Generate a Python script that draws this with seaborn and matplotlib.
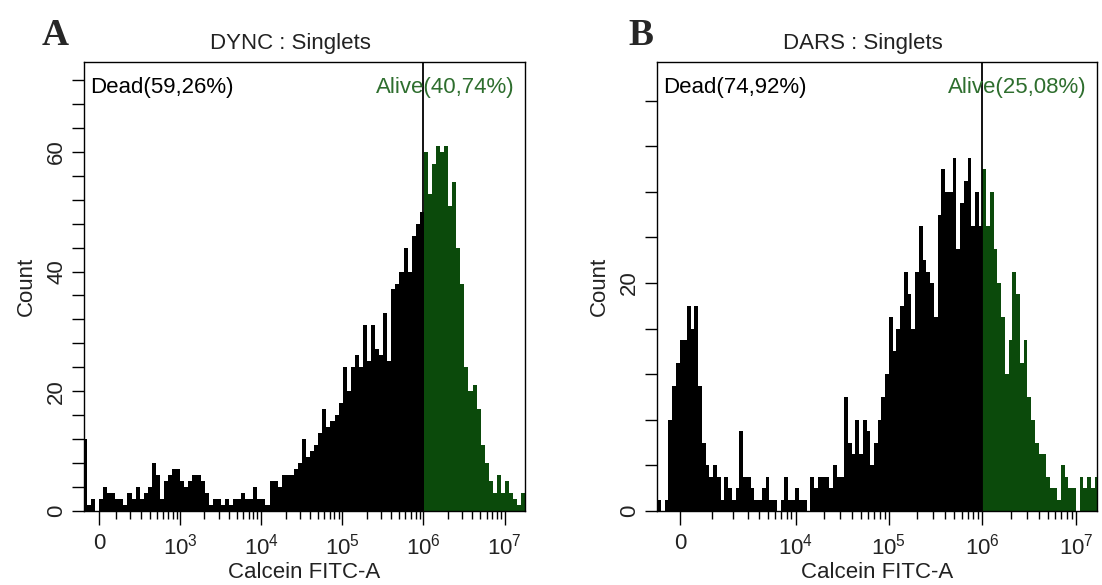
import numpy as np
import pandas as pd
import matplotlib
matplotlib.use("Agg")
import matplotlib.pyplot as plt
import seaborn as sns

# --- Painel A: DYNC, contagens por canal ---
dync_counts = [12, 1, 2, 0, 2, 4, 3, 3, 2, 2,
               1, 3, 2, 4, 2, 3, 4, 8, 6, 2,
               5, 6, 7, 7, 5, 4, 5, 6, 6, 5,
               3, 1, 2, 2, 1, 2, 1, 2, 2, 3,
               2, 2, 4, 2, 2, 1, 5, 5, 4, 6,
               6, 6, 7, 8, 12, 9, 10, 11, 13, 17,
               14, 15, 16, 18, 24, 20, 24, 26, 24, 31,
               25, 31, 27, 26, 33, 25, 37, 38, 40, 44,
               40, 46, 48, 50, 60, 53, 58, 61, 60, 61,
               51, 55, 44, 38, 24, 20, 21, 17, 11, 8,
               5, 3, 6, 3, 5, 3, 2, 1, 3]

# --- Painel B: DARS ---
dars_counts = [1, 0, 1, 8, 11, 13, 15, 15, 18, 16,
               18, 11, 6, 4, 3, 4, 3, 1, 3, 2,
               1, 2, 7, 3, 3, 2, 1, 1, 2, 3,
               1, 1, 0, 1, 3, 1, 1, 2, 1, 1,
               0, 3, 2, 3, 3, 3, 2, 4, 3, 3,
               10, 6, 5, 8, 5, 8, 7, 4, 6, 8,
               10, 12, 17, 14, 16, 18, 21, 19, 16, 21,
               25, 22, 21, 20, 17, 26, 30, 28, 28, 31,
               23, 27, 29, 31, 25, 28, 25, 30, 25, 28,
               23, 20, 17, 12, 15, 21, 19, 13, 15, 10,
               8, 6, 5, 5, 3, 2, 2, 1, 4, 3,
               2, 2, 0, 3, 2, 3, 2, 3]

titles = ["DYNC : Singlets", "DARS : Singlets"]
dead_labels = ["Dead(59,26%)", "Dead(74,92%)"]
alive_labels = ["Alive(40,74%)", "Alive(25,08%)"]
gate = 1e6

GREEN = "#0b4a0b"
GREEN_TXT = "#2e6e2e"
FS = 16


def to_u(x, w):
    """transformação tipo biexponencial (arcsinh), em décadas"""
    return np.arcsinh(np.asarray(x, float) / w) / np.log(10)


def painel(ax, counts, w, u_start, u_step, u_lim, ymax, major, major_lbl, minor,
           yticks, title, dead, alive):
    n = len(counts)
    u_edges = u_start + u_step * np.arange(n + 1)
    u_centers = u_start + u_step * (np.arange(n) + 0.5)
    u_gate = to_u(gate, w)

    # cada canal vira "eventos" no centro do bin
    ev = pd.DataFrame({"u": np.repeat(u_centers, counts)})
    ev["gate"] = np.where(ev["u"] < u_gate, "Dead", "Alive")

    sns.histplot(data=ev[ev["gate"] == "Dead"], x="u", bins=u_edges,
                 element="step", fill=True, color="black", alpha=1,
                 linewidth=0, ax=ax)
    sns.histplot(data=ev[ev["gate"] == "Alive"], x="u", bins=u_edges,
                 element="step", fill=True, color=GREEN, alpha=1,
                 linewidth=0, ax=ax)
    ax.axvline(u_gate, color="black", lw=1.3)

    ax.set_xlim(*u_lim)
    ax.set_ylim(0, ymax)

    ax.set_xticks(to_u(major, w))
    ax.set_xticklabels(major_lbl)
    ax.set_xticks(to_u(minor, w), minor=True)
    ax.set_yticks(yticks)
    ax.set_yticks(np.arange(0, ymax, 4), minor=True)
    ax.set_yticklabels([str(v) for v in yticks])

    ax.tick_params(axis="both", which="both", direction="out", color="black",
                   labelcolor="#222222", width=1)
    ax.tick_params(axis="y", which="both", length=9)
    ax.tick_params(axis="y", which="major", pad=3, labelrotation=90, labelsize=FS)
    ax.tick_params(axis="x", which="major", length=10, pad=6, labelsize=FS)
    ax.tick_params(axis="x", which="minor", length=6)
    for lab in ax.get_yticklabels():
        lab.set_va("center")

    for s in ax.spines.values():
        s.set_color("black")
        s.set_linewidth(1)

    ax.set_xlabel("Calcein FITC-A", fontsize=FS, color="#222222", labelpad=2)
    ax.set_ylabel("Count", fontsize=FS, color="#222222", labelpad=7)

    ax.text(0.467, 1.029, title, transform=ax.transAxes, ha="center",
            va="baseline", fontsize=FS, color="#222222")
    ax.text(0.014, 0.944, dead, transform=ax.transAxes, ha="left",
            va="center", fontsize=FS, color="black")
    ax.text(0.977, 0.944, alive, transform=ax.transAxes, ha="right",
            va="center", fontsize=FS, color=GREEN_TXT)


sns.set_theme(style="ticks")
plt.rcParams["font.family"] = ["Liberation Sans", "DejaVu Sans"]
plt.rcParams["mathtext.fontset"] = "custom"
plt.rcParams["mathtext.rm"] = "Liberation Sans"
plt.rcParams["mathtext.it"] = "Liberation Sans:italic"

W, H = 1102, 585
fig = plt.figure(figsize=(W / 100, H / 100), dpi=100)
axA = fig.add_axes([84 / W, 74 / H, 441 / W, 449 / H])
axB = fig.add_axes([657 / W, 74 / H, 440 / W, 449 / H])

minorA = [k * 100 for k in range(1, 10)] + \
         [k * 10.0 ** e for e in range(3, 7) for k in range(2, 10)]
painel(axA, dync_counts, 202, -0.2, 0.05, (-0.185, 5.246), 75,
       [0, 1e3, 1e4, 1e5, 1e6, 1e7],
       ["0", "$10^3$", "$10^4$", "$10^5$", "$10^6$", "$10^7$"],
       minorA, [0, 20, 40, 60], titles[0], dead_labels[0], alive_labels[0])

minorB = [k * 1000 for k in range(1, 10)] + \
         [k * 10.0 ** e for e in range(4, 7) for k in range(2, 10)]
painel(axB, dars_counts, 1180, -0.25, 0.04, (-0.251, 4.455), 39.4,
       [0, 1e4, 1e5, 1e6, 1e7],
       ["0", "$10^4$", "$10^5$", "$10^6$", "$10^7$"],
       minorB, [0, 20], titles[1], dead_labels[1], alive_labels[1])

fig.text(42 / W, 1 - 45 / H, "A", fontfamily="Liberation Serif",
         fontweight="bold", fontsize=27, va="baseline")
fig.text(628 / W, 1 - 45 / H, "B", fontfamily="Liberation Serif",
         fontweight="bold", fontsize=27, va="baseline")

fig.savefig("out.png", dpi=100, facecolor="white")
